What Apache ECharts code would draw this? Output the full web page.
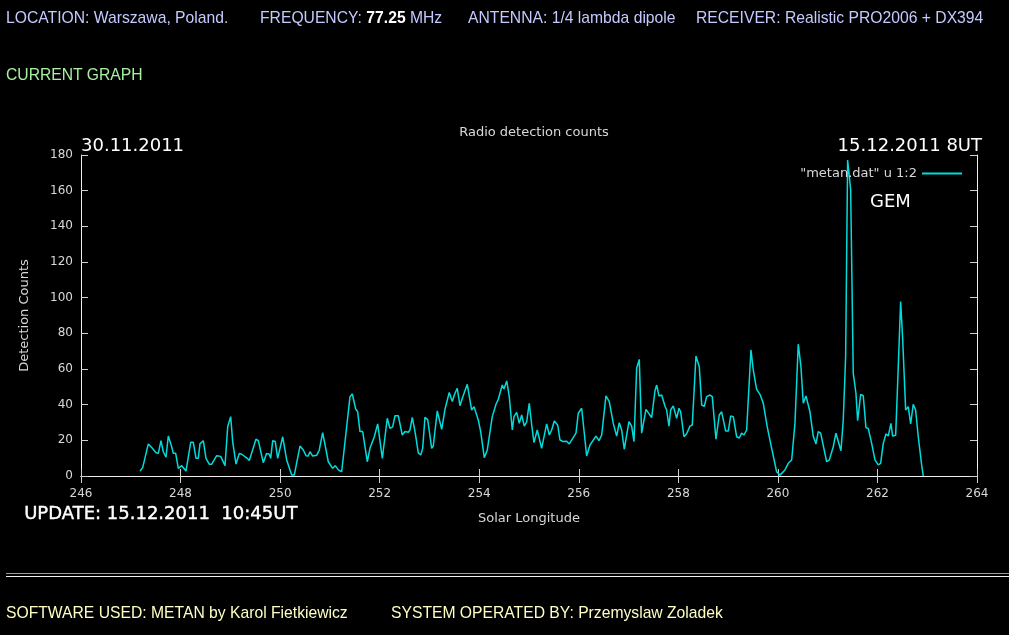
<!DOCTYPE html>
<html>
<head>
<meta charset="utf-8">
<script src="https://cdn.jsdelivr.net/npm/echarts@6/dist/echarts.min.js"></script>
<style>
  html, body { margin: 0; padding: 0; background: #000; width: 1009px; height: 635px; overflow: hidden; }
  #chart { position: absolute; left: 0; top: 0; width: 1009px; height: 635px; }
  .t { position: absolute; font-family: "Liberation Sans", Arial, sans-serif; font-size: 15.7px; white-space: pre; line-height: 18px; }
  .hd { color: #c4caff; top: 9px; }
  .ft { color: #ffffc4; top: 604px; }
  #sep { position: absolute; left: 6px; right: 0; top: 573px; height: 2px; border-top: 1px solid #9a9a9a; border-bottom: 1px solid #f0f0f0; }
</style>
</head>
<body>
<div id="chart"></div>
<div class="t hd" style="left:6px">LOCATION: Warszawa, Poland.</div>
<div class="t hd" style="left:260px">FREQUENCY: <b style="color:#fff">77.25</b> MHz</div>
<div class="t hd" style="left:468px">ANTENNA: 1/4 lambda dipole</div>
<div class="t hd" style="left:696px">RECEIVER: Realistic PRO2006 + DX394</div>
<div class="t" style="left:6px; top:66px; color:#a8f0a0">CURRENT GRAPH</div>
<div id="sep"></div>
<div class="t ft" style="left:6px">SOFTWARE USED: METAN by Karol Fietkiewicz</div>
<div class="t ft" style="left:391px">SYSTEM OPERATED BY: Przemyslaw Zoladek</div>
<script>
// Solar longitude of each sample (deg)
const solarLongitude = [
  247.185, 247.239, 247.352, 247.420, 247.507, 247.553, 247.607, 247.653, 247.707, 247.754,
  247.822, 247.854, 247.902, 247.955, 248.023, 248.055, 248.109, 248.204, 248.256, 248.310,
  248.356, 248.390, 248.457, 248.511, 248.577, 248.626, 248.726, 248.806, 248.893, 248.947,
  249.007, 249.047, 249.114, 249.180, 249.228, 249.341, 249.381, 249.515, 249.562, 249.662,
  249.730, 249.783, 249.811, 249.851, 249.903, 249.951, 250.052, 250.132, 250.198, 250.233,
  250.285, 250.399, 250.466, 250.520, 250.566, 250.600, 250.654, 250.735, 250.787, 250.855,
  250.968, 251.056, 251.108, 251.169, 251.237, 251.404, 251.450, 251.518, 251.558, 251.605,
  251.659, 251.751, 251.805, 251.892, 251.960, 252.053, 252.153, 252.207, 252.261, 252.308,
  252.374, 252.454, 252.509, 252.575, 252.609, 252.655, 252.715, 252.776, 252.824, 252.864,
  252.910, 252.965, 253.045, 253.077, 253.157, 253.246, 253.312, 253.398, 253.459, 253.499,
  253.559, 253.613, 253.660, 253.760, 253.848, 253.895, 253.981, 254.029, 254.102, 254.162,
  254.262, 254.337, 254.383, 254.463, 254.497, 254.552, 254.604, 254.664, 254.698, 254.752,
  254.805, 254.853, 254.905, 254.953, 255.005, 255.054, 255.100, 255.166, 255.206, 255.254,
  255.355, 255.407, 255.455, 255.508, 255.576, 255.622, 255.688, 255.757, 255.809, 255.944,
  255.990, 256.058, 256.104, 256.158, 256.225, 256.345, 256.406, 256.460, 256.546, 256.613,
  256.693, 256.761, 256.813, 256.862, 256.914, 257.008, 257.062, 257.109, 257.163, 257.215,
  257.263, 257.350, 257.384, 257.464, 257.531, 257.565, 257.611, 257.665, 257.731, 257.765,
  257.812, 257.846, 257.898, 257.918, 257.966, 258.013, 258.047, 258.113, 258.167, 258.234,
  258.280, 258.354, 258.421, 258.469, 258.521, 258.569, 258.635, 258.682, 258.756, 258.822,
  258.870, 258.951, 259.003, 259.051, 259.104, 259.172, 259.224, 259.272, 259.318, 259.372,
  259.459, 259.505, 259.573, 259.640, 259.706, 259.786, 259.875, 259.975, 260.042, 260.142,
  260.208, 260.277, 260.343, 260.409, 260.463, 260.510, 260.564, 260.644, 260.710, 260.765,
  260.811, 260.859, 260.980, 261.032, 261.112, 261.166, 261.267, 261.313, 261.361, 261.401,
  261.462, 261.514, 261.568, 261.602, 261.663, 261.715, 261.769, 261.815, 261.884, 261.950,
  262.016, 262.064, 262.117, 262.171, 262.217, 262.271, 262.305, 262.366, 262.406, 262.466,
  262.506, 262.567, 262.619, 262.667, 262.719, 262.767, 262.820, 262.888, 262.920
];
// Detection counts at each sample
const detectionCounts = [
  2.8, 4.7, 18, 16, 13, 12.7, 19.8, 13.6, 10.5, 22.4,
  16.4, 12.7, 12.7, 4.3, 5.8, 5.5, 2.8, 18.9, 18.9, 9.9,
  9.9, 18, 19.8, 9.9, 6.6, 6.6, 11.4, 11, 5.8, 27.6,
  33.3, 19.3, 6.7, 12.7, 12.2, 9.9, 8.7, 20.6, 19.8, 7.5,
  12.7, 12.2, 9.9, 19.8, 19.3, 9.9, 22, 9, 3.4, 0.5,
  0.5, 16.8, 14.6, 11.4, 11.2, 13.6, 11.2, 11.6, 14.6, 24.3,
  8, 4.3, 5.8, 3.4, 2.4, 44.5, 46, 37.6, 36, 24.9,
  24.9, 8, 15.5, 22, 29.2, 9.9, 32.4, 26.7, 27.5, 33.8,
  33.8, 23, 24.9, 24.5, 25.8, 32.9, 24, 13, 11.8, 15.5,
  32.9, 31.6, 15.5, 16.8, 36.5, 26.2, 37.4, 46.9, 41.7, 45.4,
  49.2, 39.4, 43.6, 51.4, 37, 38.9, 31.4, 24.9, 10.3, 14.6,
  33.3, 40.2, 43, 51, 48.8, 53.3, 44.5, 25.8, 33.3, 35.7,
  29.5, 34.2, 28, 30.3, 40.8, 28.6, 18.7, 25.8, 24.8, 15.5,
  29.2, 23, 25.8, 30.8, 28.6, 20.2, 19.3, 19.5, 18, 24,
  35.2, 38, 25.8, 11.2, 17.4, 22.4, 19.8, 23, 44.9, 41.7,
  29.5, 22.4, 29.9, 25.8, 15, 30.5, 28, 19.3, 60.4, 65.4,
  24, 37.4, 37.9, 32.7, 47.8, 51, 44.9, 45.4, 39.3, 37,
  28, 37, 39.3, 39.8, 32.4, 38, 36, 22, 23.7, 28,
  28.6, 67.3, 61.3, 39.8, 39, 44.5, 45.4, 44.5, 20.6, 34.2,
  36, 25.2, 25.2, 33.6, 33.3, 22, 21.3, 24, 23, 25.8,
  70.7, 59.5, 48.6, 45.8, 40.8, 27.6, 15.5, 2.4, 0.5, 3.4,
  7.1, 9, 29.5, 73.9, 61.3, 40.8, 44.9, 36, 22.4, 18,
  24.9, 24, 8, 8.9, 16.4, 24, 14.2, 31.4, 66.9, 177.2,
  160.4, 57.6, 46.4, 31, 45.8, 45, 27.1, 26.7, 18.3, 9,
  6.2, 7.1, 18.3, 23.6, 22.4, 29.5, 22.4, 22.8, 52, 97.8,
  77.2, 37, 38.9, 29.2, 40.2, 37, 22, 6.2, 0
];
const xTicks = { min: 246, max: 264, interval: 2 };
const yTicks = { min: 0, max: 180, interval: 20 };

const seriesData = solarLongitude.map((lon, i) => [lon, detectionCounts[i]]);

const chart = echarts.init(document.getElementById('chart'), null, { renderer: 'canvas' });
const lblFont = 'DejaVu Sans';
const axisCommon = {
  type: 'value',
  axisLine: { show: true, lineStyle: { color: '#f0f0f0', width: 1 } },
  axisTick: { show: true, inside: true, length: 7, lineStyle: { color: '#cfcfcf', width: 1 } },
  splitLine: { show: false }
};
chart.setOption({
  backgroundColor: '#000',
  animation: false,
  title: {
    text: 'Radio detection counts',
    left: 529, top: 121, textAlign: 'center',
    textStyle: { color: '#d8d8d8', fontFamily: lblFont, fontSize: 13, fontWeight: 'normal' }
  },
  grid: { left: 81, right: 32, top: 155, bottom: 159 },
  legend: {
    right: 42, top: 162, align: 'right', icon: 'rect', itemWidth: 40, itemHeight: 2,
    textStyle: { color: '#d8d8d8', fontFamily: lblFont, fontSize: 13 },
    data: ['"metan.dat" u 1:2']
  },
  xAxis: [
    Object.assign({}, axisCommon, {
      position: 'bottom', min: xTicks.min, max: xTicks.max, interval: xTicks.interval,
      name: 'Solar Longitude', nameLocation: 'middle', nameGap: 36,
      nameTextStyle: { color: '#d8d8d8', fontFamily: lblFont, fontSize: 13 },
      axisLabel: { color: '#d8d8d8', fontFamily: lblFont, fontSize: 12, margin: 12 }
    }),
    Object.assign({}, axisCommon, {
      position: 'top', min: xTicks.min, max: xTicks.max, interval: xTicks.interval,
      axisLabel: { show: false }
    })
  ],
  yAxis: [
    Object.assign({}, axisCommon, {
      position: 'left', min: yTicks.min, max: yTicks.max, interval: yTicks.interval,
      name: 'Detection Counts', nameLocation: 'middle', nameGap: 50, nameRotate: 90,
      nameTextStyle: { color: '#d8d8d8', fontFamily: lblFont, fontSize: 13 },
      axisLabel: { color: '#d8d8d8', fontFamily: lblFont, fontSize: 12, margin: 8 }
    }),
    Object.assign({}, axisCommon, {
      position: 'right', min: yTicks.min, max: yTicks.max, interval: yTicks.interval,
      axisLabel: { show: false }
    })
  ],
  series: [{
    name: '"metan.dat" u 1:2',
    type: 'line',
    data: seriesData,
    showSymbol: false,
    symbol: 'none',
    lineStyle: { color: '#00dcdc', width: 1.5 },
    itemStyle: { color: '#00dcdc' }
  }],
  graphic: [
    { type: 'text', left: 81, top: 137, style: { text: '30.11.2011', fill: '#fff', font: '18px "DejaVu Sans"' } },
    { type: 'text', right: 27, top: 137, style: { text: '15.12.2011 8UT', fill: '#fff', font: '18px "DejaVu Sans"' } },
    { type: 'text', left: 870, top: 193, style: { text: 'GEM', fill: '#fff', font: '18px "DejaVu Sans"' } },
    { type: 'text', left: 24, top: 505, style: { text: 'UPDATE: 15.12.2011  10:45UT', fill: '#fff', font: '18px "DejaVu Sans"', stroke: '#fff', lineWidth: 0.4 } }
  ]
});
</script>
</body>
</html>
